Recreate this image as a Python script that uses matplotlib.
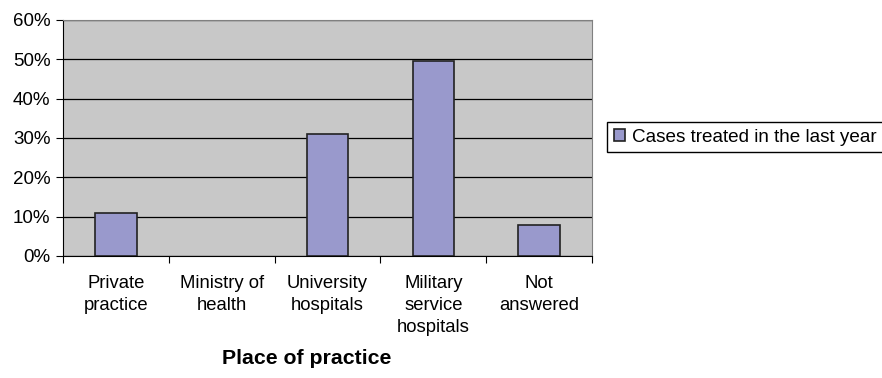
import matplotlib.pyplot as plt
from matplotlib.ticker import PercentFormatter

plt.rcParams['font.family'] = ['Liberation Sans', 'DejaVu Sans']

# place of practice categories and share of cases treated
categories = ["Private\npractice", "Ministry of\nhealth", "University\nhospitals",
              "Military\nservice\nhospitals", "Not\nanswered"]
cases = [11, 0, 31, 49.6, 8]
series_name = "Cases treated in the last year"

fig = plt.figure(figsize=(8.82, 3.78), dpi=100)
ax = fig.add_axes([63 / 882, 1 - 256 / 378, (592 - 63) / 882, (256 - 20) / 378])
ax.set_facecolor("#c8c8c8")

x = range(len(categories))
bars = ax.bar(x, [v / 100 for v in cases], width=0.39, color="#9999cc",
              edgecolor="#222222", linewidth=1.2, label=series_name, zorder=3)
# an empty bar leaves no outline in the original
for b, v in zip(bars, cases):
    if v == 0:
        b.set_linewidth(0)

ax.set_ylim(0, 0.6)
ax.set_yticks([i / 10 for i in range(7)])
ax.yaxis.set_major_formatter(PercentFormatter(1.0, decimals=0))
ax.yaxis.grid(True, color="black", linewidth=0.9, zorder=1)
ax.set_axisbelow(True)

ax.set_xlim(-0.5, len(categories) - 0.5)
ax.set_xticks([i - 0.5 for i in range(len(categories) + 1)])
ax.set_xticklabels([])
ax.set_xticks(list(x), minor=True)
ax.set_xticklabels(categories, minor=True)
ax.tick_params(axis="x", which="minor", length=0, pad=14, labelsize=13.3)
ax.tick_params(axis="x", which="major", length=5, direction="out", color="black")
ax.tick_params(axis="y", length=5, direction="out", labelsize=13.5, pad=4)
for t in ax.get_xticklabels(minor=True):
    t.set_verticalalignment("top")
    t.set_linespacing(1.38)

ax.spines["left"].set_color("black")
ax.spines["bottom"].set_color("black")
ax.spines["top"].set_color("#808080")
ax.spines["right"].set_color("#808080")

fig.text(307 / 882, 1 - 358 / 378, "Place of practice", fontsize=15.3,
         fontweight="bold", ha="center", va="center")

leg = fig.legend(loc="upper left", bbox_to_anchor=(607 / 882, 1 - 122 / 378),
                 fontsize=13.6, fancybox=False, edgecolor="black", framealpha=1,
                 handlelength=0.6, handleheight=0.6, handletextpad=0.4,
                 borderpad=0.35, borderaxespad=0)
leg.get_frame().set_linewidth(1.0)

fig.savefig("out.png", dpi=100)
